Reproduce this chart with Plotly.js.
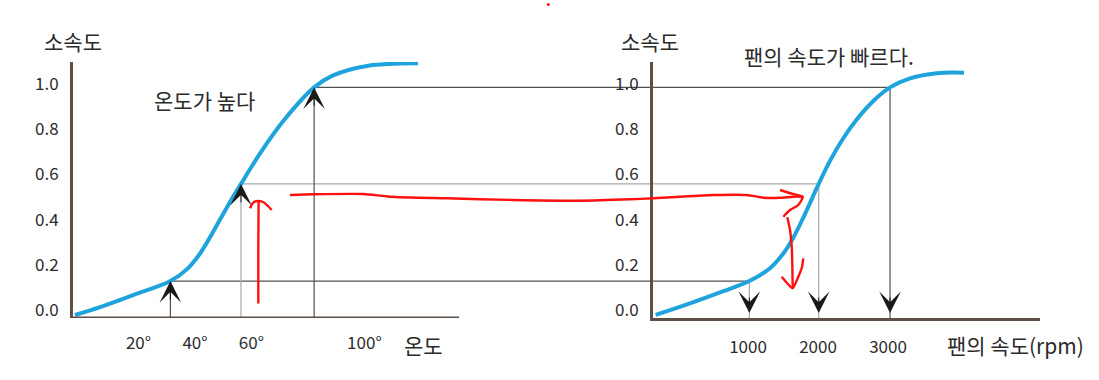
<!DOCTYPE html>
<html>
<head>
<meta charset="utf-8">
<script src="https://cdn.plot.ly/plotly-3.0.1.min.js"></script>
<style>
  html, body { margin: 0; padding: 0; background: #ffffff; }
  #chart { width: 1099px; height: 380px; }
</style>
</head>
<body>
<div id="chart"></div>
<script>
// ---------------- data ----------------
// Left panel: 소속도 vs 온도 (temperature, degrees)
const tempX = [-2.5, 6.4, 18.1, 31.3, 37.2, 41.8, 46.4, 51.3, 56.3, 63.0, 71.2, 82.2, 88.9, 100.9, 119.0];
const tempY = [-0.022, 0.013, 0.066, 0.128, 0.181, 0.250, 0.345, 0.454, 0.558, 0.692, 0.835, 0.985, 1.038, 1.080, 1.092];

// Right panel: 소속도 vs 팬의 속도 (rpm)
const rpmX = [-319, 171, 647, 1019, 1314, 1504, 1647, 1790, 2010, 2171, 2361, 2553, 2790, 3029, 3314, 3696, 4086];
const rpmY = [-0.022, 0.029, 0.083, 0.128, 0.185, 0.250, 0.320, 0.409, 0.558, 0.660, 0.760, 0.843, 0.925, 0.985, 1.025, 1.048, 1.050];

// Mapping levels (temperature -> membership -> fan speed)
const levelY    = [0.128, 0.558, 0.985];
const levelTemp = [31.3, 56.3, 82.2];
const levelRpm  = [1019, 2010, 3029];
const levelTone = ['dark', 'grey', 'dark'];
const rpmTone   = ['grey', 'grey', 'dark'];

// Tick labels
const yTickVals = [0, 0.2, 0.4, 0.6, 0.8, 1.0];
const yTickText = ['0.0', '0.2', '0.4', '0.6', '0.8', '1.0'];
const tempTickVals = [20, 40, 60, 100];
const tempTickText = ['20°', '40°', '60°', '100°'];
const rpmTickVals = [1000, 2000, 3000];
const rpmTickText = ['1000', '2000', '3000'];

// Texts
const yTitle = '소속도';
const tempTitle = '온도';
const rpmTitle = '팬의 속도(rpm)';
const tempNote = '온도가 높다';
const rpmNote = '팬의 속도가 빠르다.';

// Hand-drawn red markup (canvas units of the overlay layer)
const redUpX = [258.3, 258.3, 258.6, null, 250.0, 253.3, 258.5, 264.0, 268.0, 271.7];
const redUpY = [303.5, 250.0, 201.5, null, 208.3, 202.5, 201.0, 202.5, 206.0, 210.0];
const redLongX = [290.0, 313.3, 363.3, 390.0, 446.7, 513.3, 580.0, 630.0, 653.3, 680.0, 713.3, 746.7, 763.3, 780.0, 793.3, 802.7,
                  null, 780.0, 793.0, 802.7, 798.3, 790.0, 783.3];
const redLongY = [195.0, 194.3, 194.0, 196.7, 198.3, 200.0, 200.7, 199.3, 198.3, 196.7, 195.0, 195.0, 197.7, 197.8, 196.7, 196.7,
                  null, 190.0, 194.0, 196.7, 205.0, 210.0, 216.7];
const redDownX = [787.3, 790.0, 791.7, 792.3, 792.7, null, 781.7, 787.0, 792.7, 798.3, 801.7, 803.3];
const redDownY = [217.3, 230.0, 246.7, 263.3, 288.0, null, 276.7, 283.0, 288.3, 276.7, 268.3, 258.3];
const redDotX = [548.3];
const redDotY = [4.5];

// ---------------- layout constants ----------------
const W = 1099, H = 380;
const FONT = '"Noto Sans CJK KR", "Noto Sans", sans-serif';
const TEXT = '#2b2b2b';
const AXIS = '#5e5046';
const CURVE = '#1ea3dc';
const TONE = { dark: '#505050', grey: '#a8a8a8' };
const RED = '#ff1010';

const yRange = [-0.0354, 1.0973];
const tempRange = [-3.19, 202.2];
const tempAxisEnd = 133.5;
const rpmRange = [-357, 5171];

const px = v => v / W;
const py = v => 1 - v / H;

const traces = [];

// horizontal mapping lines (left part on left panel, right part on right panel)
levelY.forEach((lv, i) => {
  const col = TONE[levelTone[i]];
  traces.push({ x: [levelTemp[i], tempRange[1]], y: [lv, lv], xaxis: 'x', yaxis: 'y',
    mode: 'lines', line: { color: col, width: 1.2 }, hoverinfo: 'skip' });
  traces.push({ x: [rpmRange[0], levelRpm[i]], y: [lv, lv], xaxis: 'x2', yaxis: 'y2',
    mode: 'lines', line: { color: col, width: 1.2 }, hoverinfo: 'skip' });
  traces.push({ x: [levelTemp[i], levelTemp[i]], y: [yRange[0], lv], xaxis: 'x', yaxis: 'y',
    mode: 'lines', line: { color: col, width: 1.2 }, hoverinfo: 'skip' });
  traces.push({ x: [levelRpm[i], levelRpm[i]], y: [lv, yRange[0]], xaxis: 'x2', yaxis: 'y2',
    mode: 'lines', line: { color: TONE[rpmTone[i]], width: 1.2 }, hoverinfo: 'skip' });
});

// curves
traces.push({ x: tempX, y: tempY, xaxis: 'x', yaxis: 'y', mode: 'lines',
  line: { color: CURVE, width: 4, shape: 'spline', smoothing: 1 }, hoverinfo: 'skip' });
traces.push({ x: rpmX, y: rpmY, xaxis: 'x2', yaxis: 'y2', mode: 'lines',
  line: { color: CURVE, width: 4, shape: 'spline', smoothing: 1 }, hoverinfo: 'skip' });

// red markup overlay
[[redUpX, redUpY], [redLongX, redLongY], [redDownX, redDownY]].forEach(([xs, ys]) => {
  traces.push({ x: xs, y: ys, xaxis: 'x3', yaxis: 'y3', mode: 'lines', connectgaps: false,
    line: { color: RED, width: 2.4, shape: 'spline', smoothing: 0.6 }, hoverinfo: 'skip' });
});
traces.push({ x: redDotX, y: redDotY, xaxis: 'x3', yaxis: 'y3', mode: 'markers',
  marker: { color: RED, size: 3 }, hoverinfo: 'skip' });

// annotations
const annotations = [];
levelY.forEach((lv, i) => {
  annotations.push({ x: levelTemp[i], y: lv, xref: 'x', yref: 'y', text: '', showarrow: true,
    arrowhead: 3, arrowsize: 3.6, arrowwidth: 1, arrowcolor: '#1a1a1a', ax: 0, ay: 20 });
  annotations.push({ x: levelRpm[i], y: yRange[0], xref: 'x2', yref: 'y2', text: '', showarrow: true,
    arrowhead: 3, arrowsize: 3.6, arrowwidth: 1, arrowcolor: '#1a1a1a', ax: 0, ay: -22, standoff: 5 });
});
const textAnn = (t, x, y, size) => ({ text: t, x: px(x), y: py(y), xref: 'paper', yref: 'paper',
  showarrow: false, xanchor: 'center', yanchor: 'middle', font: { family: FONT, size: size, color: TEXT } });
annotations.push(textAnn(yTitle, 73, 41, 21));
annotations.push(textAnn(yTitle, 650, 41, 21));
annotations.push(textAnn(tempNote, 204, 100, 21));
annotations.push(textAnn(rpmNote, 829, 56, 21));
annotations.push(textAnn(tempTitle, 423, 345, 21));
annotations.push(textAnn(rpmTitle, 1015, 345, 21));

const tickFont = { family: FONT, size: 17, color: TEXT };
const yDom = [py(318), py(62)];

const layout = {
  width: W, height: H,
  margin: { l: 0, r: 0, t: 0, b: 0, pad: 0 },
  paper_bgcolor: '#ffffff', plot_bgcolor: 'rgba(0,0,0,0)',
  showlegend: false, hovermode: false,
  font: { family: FONT, color: TEXT },
  xaxis: { domain: [px(73), px(653)], range: tempRange, anchor: 'y',
    showgrid: false, zeroline: false, showline: false, ticks: '',
    tickvals: tempTickVals, ticktext: tempTickText, tickfont: tickFont, ticklabelstandoff: 13 },
  yaxis: { domain: yDom, range: yRange, anchor: 'x',
    showgrid: false, zeroline: false, showline: true, linecolor: AXIS, linewidth: 3, ticks: '',
    tickvals: yTickVals, ticktext: yTickText, tickfont: tickFont, ticklabelstandoff: 8 },
  xaxis2: { domain: [px(653), px(1040)], range: rpmRange, anchor: 'y2',
    showgrid: false, zeroline: false, showline: true, linecolor: AXIS, linewidth: 3, ticks: '',
    tickvals: rpmTickVals, ticktext: rpmTickText, tickfont: tickFont, ticklabelstandoff: 12 },
  yaxis2: { domain: yDom, range: yRange, anchor: 'x2',
    showgrid: false, zeroline: false, showline: true, linecolor: AXIS, linewidth: 3, ticks: '',
    tickvals: yTickVals, ticktext: yTickText, tickfont: tickFont, ticklabelstandoff: 8 },
  xaxis3: { domain: [0, 1], range: [0, W], anchor: 'y3', visible: false, fixedrange: true },
  yaxis3: { domain: [0, 1], range: [H, 0], anchor: 'x3', visible: false, fixedrange: true },
  shapes: [
    { type: 'line', xref: 'x', yref: 'y', x0: tempRange[0], x1: tempAxisEnd, y0: yRange[0], y1: yRange[0],
      line: { color: AXIS, width: 3 }, layer: 'above' }
  ],
  annotations: annotations
};

Plotly.newPlot('chart', traces, layout, { staticPlot: true, displayModeBar: false });
</script>
</body>
</html>
